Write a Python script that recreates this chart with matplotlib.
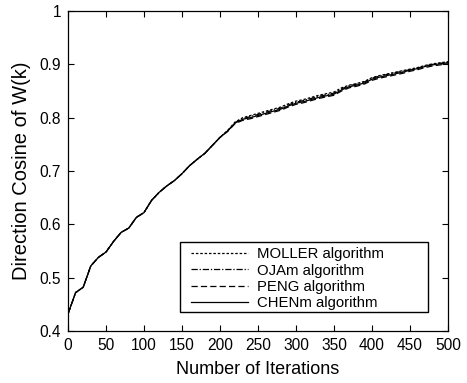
import matplotlib
matplotlib.use("Agg")
import matplotlib.pyplot as plt
from matplotlib.patches import Rectangle
import numpy as np

iterations = list(range(0, 501, 10))
chen = [0.432, 0.472, 0.482, 0.522, 0.538, 0.548, 0.568, 0.585, 0.593, 0.613,
        0.622, 0.645, 0.660, 0.672, 0.682, 0.695, 0.710, 0.722, 0.733, 0.748,
        0.763, 0.775, 0.790, 0.797, 0.800, 0.804, 0.808, 0.812, 0.816, 0.822,
        0.827, 0.830, 0.834, 0.838, 0.841, 0.844, 0.852, 0.858, 0.861, 0.865,
        0.872, 0.876, 0.879, 0.882, 0.885, 0.889, 0.892, 0.896, 0.899, 0.901,
        0.903]
moller = [0.432, 0.472, 0.482, 0.522, 0.538, 0.548, 0.568, 0.585, 0.593, 0.613,
          0.622, 0.645, 0.660, 0.672, 0.682, 0.695, 0.710, 0.722, 0.733, 0.748,
          0.763, 0.776, 0.792, 0.800, 0.804, 0.808, 0.812, 0.816, 0.820, 0.826,
          0.831, 0.834, 0.838, 0.842, 0.845, 0.848, 0.856, 0.861, 0.864, 0.868,
          0.875, 0.879, 0.882, 0.885, 0.888, 0.891, 0.894, 0.898, 0.901, 0.903,
          0.905]
ojam = [0.432, 0.472, 0.482, 0.522, 0.538, 0.548, 0.568, 0.585, 0.593, 0.613,
        0.622, 0.645, 0.660, 0.672, 0.682, 0.695, 0.710, 0.722, 0.733, 0.748,
        0.763, 0.775, 0.791, 0.798, 0.802, 0.806, 0.810, 0.814, 0.818, 0.824,
        0.829, 0.832, 0.836, 0.840, 0.843, 0.846, 0.854, 0.860, 0.863, 0.867,
        0.874, 0.878, 0.881, 0.884, 0.887, 0.890, 0.893, 0.897, 0.900, 0.902,
        0.904]
peng = [0.432, 0.472, 0.482, 0.522, 0.538, 0.548, 0.568, 0.585, 0.593, 0.613,
        0.622, 0.645, 0.660, 0.672, 0.682, 0.695, 0.710, 0.722, 0.733, 0.748,
        0.763, 0.774, 0.789, 0.795, 0.798, 0.802, 0.806, 0.810, 0.814, 0.820,
        0.825, 0.828, 0.832, 0.836, 0.839, 0.842, 0.850, 0.856, 0.859, 0.863,
        0.870, 0.874, 0.877, 0.880, 0.883, 0.887, 0.890, 0.894, 0.897, 0.899,
        0.901]

series = [("MOLLER algorithm", moller, (0, (2, 1.5))),
          ("OJAm algorithm", ojam, (0, (5, 1.5, 1, 1.5))),
          ("PENG algorithm", peng, (0, (5, 2.5))),
          ("CHENm algorithm", chen, "-")]

plt.rcParams['font.family'] = ['Liberation Sans', 'DejaVu Sans']
fig = plt.figure(figsize=(4.67, 3.83), dpi=100)
ax = fig.add_axes([0.1456, 0.1358, 0.8137, 0.8355])
for label, vals, ls in series:
    ax.plot(iterations, vals, color='black', linestyle=ls, linewidth=0.9, label=label)

ax.set_xlim(0, 500)
ax.set_ylim(0.4, 1.0)
ax.set_xticks(np.arange(0, 501, 50))
ax.set_yticks([0.4, 0.5, 0.6, 0.7, 0.8, 0.9, 1.0])
ax.set_yticklabels(['0.4', '0.5', '0.6', '0.7', '0.8', '0.9', '1'])
ax.tick_params(direction='in', top=True, right=True, length=4, labelsize=11.2,
               width=0.8, pad=5)
for s in ax.spines.values():
    s.set_linewidth(0.9)
ax.set_xlabel('Number of Iterations', fontsize=13, labelpad=6)
ax.set_ylabel('Direction Cosine of W(k)', fontsize=14.5, labelpad=6)

# legend box (MATLAB style with slight shadow)
ax.add_patch(Rectangle((0.297, 0.056), 0.652, 0.219, transform=ax.transAxes,
                       facecolor='#333333', edgecolor='none', zorder=4))
ax.add_patch(Rectangle((0.295, 0.059), 0.652, 0.219, transform=ax.transAxes,
                       facecolor='white', edgecolor='black', linewidth=1.0, zorder=5))
leg = ax.legend(loc='upper left', bbox_to_anchor=(0.324, 0.262), fontsize=10.7,
                handlelength=3.85, frameon=False, borderpad=0, labelspacing=0.16,
                handletextpad=0.6, borderaxespad=0)
leg.set_zorder(6)
fig.savefig('out.png', dpi=100)
